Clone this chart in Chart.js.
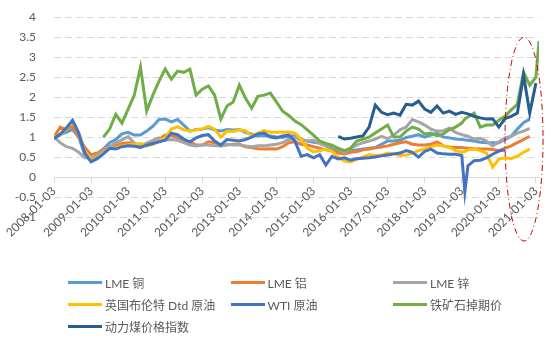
<!DOCTYPE html>
<html>
<head>
<meta charset="utf-8">
<script src="https://cdn.jsdelivr.net/npm/chart.js@4.4.1/dist/chart.umd.min.js"></script>
<style>
  body { margin: 0; background: #fff; }
  #wrap { position: relative; width: 554px; height: 344px; }
  #legend { position: absolute; left: 0; top: 0; width: 554px; height: 344px; pointer-events: none;
            font: 12px Lato, 'Noto Sans CJK SC', sans-serif; color: #595959; }
  .item { position: absolute; height: 16px; display: flex; align-items: center; white-space: nowrap; }
  .swatch { width: 34px; height: 3px; margin-right: 3px; }
</style>
</head>
<body>
<div id="wrap">
  <canvas id="chart" width="554" height="344"></canvas>
  <div id="legend"></div>
</div>
<script>
// x positions: months since 2008-01-03
const months = [
  0, 2, 4, 6, 8, 10, 12, 14, 16, 18, 20, 22, 24, 26, 28, 30, 32, 34,
  36, 38, 40, 42, 44, 46, 48, 50, 52, 54, 56, 58, 60, 62, 64, 66, 68, 70,
  72, 74, 76, 78, 80, 82, 84, 86, 88, 90, 92, 94, 96, 98, 100, 102, 104, 106,
  108, 110, 112, 114, 116, 118, 120, 122, 124, 126, 128, 130,
  132, 133, 134, 136, 138, 140, 142,
  144, 146, 148, 150, 152, 154, 156, 157
];

const yearLabels = ['2008-01-03', '2009-01-03', '2010-01-03', '2011-01-03', '2012-01-03', '2013-01-03',
  '2014-01-03', '2015-01-03', '2016-01-03', '2017-01-03', '2018-01-03', '2019-01-03',
  '2020-01-03', '2021-01-03'];

const seriesNames = ['LME 铜', 'LME 铝', 'LME 锌', '英国布伦特 Dtd 原油', 'WTI 原油', '铁矿石掉期价', '动力煤价格指数'];
const seriesColors = ['#5B9BD5', '#ED7D31', '#A5A5A5', '#FFC000', '#4472C4', '#70AD47', '#255E91'];

const lmeCopper = [
  1.0, 1.07, 1.12, 1.19, 1.0, 0.55,
  0.42, 0.55, 0.7, 0.86, 0.94, 1.08,
  1.12, 1.05, 1.05, 1.15, 1.27, 1.44,
  1.45, 1.38, 1.44, 1.3, 1.15, 1.19,
  1.2, 1.23, 1.18, 1.15, 1.19, 1.18,
  1.19, 1.12, 1.07, 1.03, 1.04, 1.03,
  1.0, 0.99, 1.02, 1.03, 0.95, 0.9,
  0.87, 0.85, 0.78, 0.72, 0.66, 0.64,
  0.66, 0.68, 0.7, 0.72, 0.74, 0.82,
  0.9, 0.9, 0.92, 0.99, 1.02, 1.06,
  1.0, 1.05, 1.1, 1.0, 0.98, 0.95,
  0.94, 0.93, 0.92, 0.9, 0.87, 0.86, 0.86,
  0.86, 0.94, 1.02, 1.2, 1.36, 1.45, null, null
];
const lmeAluminium = [
  1.0, 1.25, 1.18, 1.27, 1.0, 0.74,
  0.56, 0.6, 0.7, 0.75, 0.8, 0.84,
  0.86, 0.84, 0.78, 0.8, 0.86, 0.94,
  1.05, 1.04, 0.98, 0.92, 0.88, 0.8,
  0.8, 0.88, 0.86, 0.78, 0.8, 0.82,
  0.82, 0.76, 0.74, 0.71, 0.7, 0.71,
  0.7, 0.76, 0.86, 0.88, 0.82, 0.8,
  0.76, 0.72, 0.68, 0.65, 0.6, 0.58,
  0.62, 0.63, 0.68, 0.7, 0.73, 0.75,
  0.78, 0.82, 0.86, 0.88, 0.82, 0.8,
  0.8, 0.82, 0.88, 0.78, 0.75, 0.74,
  0.74, 0.73, 0.72, 0.71, 0.7, 0.7, 0.69,
  0.66, 0.72, 0.78, 0.86, 0.94, 1.02, null, null
];
const lmeZinc = [
  1.0, 0.86, 0.76, 0.72, 0.62, 0.48,
  0.47, 0.55, 0.66, 0.76, 0.86, 0.93,
  1.01, 0.85, 0.78, 0.85, 0.92, 0.98,
  0.92, 0.94, 0.92, 0.86, 0.8, 0.78,
  0.8, 0.8, 0.78, 0.78, 0.82, 0.8,
  0.8, 0.78, 0.76, 0.78, 0.78, 0.8,
  0.82, 0.86, 0.94, 1.0, 0.92, 0.9,
  0.92, 0.84, 0.8, 0.76, 0.7, 0.62,
  0.72, 0.8, 0.86, 0.9, 0.95, 1.02,
  0.96, 1.05, 1.18, 1.25, 1.44, 1.38,
  1.3, 1.2, 1.15, 1.16, 1.22, 1.12,
  1.06, 1.04, 1.02, 0.95, 0.97, 0.9, 0.78,
  0.88, 0.98, 1.02, 1.1, 1.15, 1.22, null, null
];
const brentDtd = [
  1.0, 1.05, 1.2, 1.4, 1.1, 0.65,
  0.42, 0.48, 0.6, 0.72, 0.72, 0.78,
  0.8, 0.82, 0.84, 0.78, 0.82, 0.9,
  0.98, 1.2, 1.26, 1.18, 1.15, 1.18,
  1.2, 1.27, 1.2, 1.0, 1.15, 1.14,
  1.18, 1.16, 1.03, 1.1, 1.16, 1.12,
  1.12, 1.12, 1.13, 1.1, 0.95, 0.72,
  0.63, 0.66, 0.7, 0.65, 0.5, 0.4,
  0.38, 0.44, 0.5, 0.56, 0.54, 0.55,
  0.6, 0.58, 0.54, 0.55, 0.6, 0.66,
  0.7, 0.76, 0.8, 0.78, 0.74, 0.66,
  0.62, 0.64, 0.68, 0.7, 0.66, 0.6, 0.25,
  0.45, 0.48, 0.46, 0.52, 0.62, 0.7, null, null
];
const wti = [
  0.96, 1.07, 1.23, 1.42, 1.1, 0.6,
  0.38, 0.46, 0.58, 0.72, 0.7, 0.76,
  0.78, 0.77, 0.74, 0.8, 0.84, 0.88,
  0.92, 1.1, 1.06, 0.95, 0.88, 0.98,
  1.04, 1.06, 0.9, 0.8, 0.94, 0.92,
  0.9, 0.94, 1.0, 1.08, 1.1, 1.0,
  0.98, 1.03, 1.05, 0.9, 0.52, 0.56,
  0.48, 0.56, 0.3, 0.52, 0.45, 0.48,
  0.42, 0.46, 0.47, 0.48, 0.5, 0.53,
  0.55, 0.58, 0.6, 0.66, 0.62, 0.5,
  0.64, 0.7, 0.6, 0.58, 0.57, 0.57,
  0.54, -0.37, 0.28, 0.41, 0.42, 0.48, 0.57,
  0.65, 0.68, null, null, null, null, null, null
];
const ironOreSwap = [
  null, null, null, null, null, null,
  null, null, 1.0, 1.2, 1.57, 1.35,
  1.7, 2.05, 2.75, 1.65, 2.05, 2.4,
  2.7, 2.45, 2.65, 2.62, 2.7, 2.05,
  2.2, 2.28, 2.05, 1.45, 1.78, 1.88,
  2.3, 1.97, 1.72, 2.02, 2.05, 2.1,
  1.88, 1.65, 1.54, 1.4, 1.31, 1.18,
  1.05, 0.9, 0.84, 0.8, 0.72, 0.66,
  0.72, 0.9, 0.95, 1.0, 1.1, 1.2,
  1.3, 1.0, 1.0, 1.15, 1.25, 1.2,
  1.08, 1.1, 1.03, 1.08, 1.19, 1.25,
  1.35, 1.45, 1.5, 1.6, 1.25, 1.3, 1.3,
  1.42, 1.52, 1.68, 1.82, 2.62, 2.3, 2.5, 3.4
];
const thermalCoal = [
  null, null, null, null, null, null,
  null, null, null, null, null, null,
  null, null, null, null, null, null,
  null, null, null, null, null, null,
  null, null, null, null, null, null,
  null, null, null, null, null, null,
  null, null, null, null, null, null,
  null, null, null, null, 1.02, 0.95,
  0.97, 1.0, 1.03, 1.25, 1.8, 1.62,
  1.56, 1.6, 1.55, 1.82, 1.8, 1.9,
  1.7, 1.62, 1.78, 1.6, 1.65, 1.57,
  1.62, 1.6, 1.58, 1.52, 1.48, 1.45, 1.46,
  1.25, 1.46, 1.52, 1.6, 2.55, 1.6, 2.35, null
];

const allSeries = [lmeCopper, lmeAluminium, lmeZinc, brentDtd, wti, ironOreSwap, thermalCoal];

// the red dash-dot ellipse marking the latest months, in data units
const highlight = { fromMonth: 146, toMonth: 158.3, low: -1.6, high: 3.5 };

// dashed horizontal gridlines (the zero line is the solid x axis)
const dashedGrid = {
  id: 'dashedGrid',
  beforeDraw(chart) {
    const { ctx, chartArea, scales: { y } } = chart;
    ctx.save();
    ctx.strokeStyle = '#d9d9d9';
    ctx.lineWidth = 1;
    ctx.setLineDash([7, 4]);
    y.ticks.forEach(t => {
      if (t.value === 0) return;
      const py = Math.round(y.getPixelForValue(t.value)) + 0.5;
      ctx.beginPath();
      ctx.moveTo(chartArea.left, py);
      ctx.lineTo(chartArea.right, py);
      ctx.stroke();
    });
    ctx.restore();
  }
};

const ellipsePlugin = {
  id: 'ellipse',
  afterDatasetsDraw(chart) {
    const { ctx, scales: { x, y } } = chart;
    const x1 = x.getPixelForValue(highlight.fromMonth), x2 = x.getPixelForValue(highlight.toMonth);
    const y1 = y.getPixelForValue(highlight.high), y2 = y.getPixelForValue(highlight.low);
    ctx.save();
    ctx.strokeStyle = '#C00000';
    ctx.lineWidth = 1;
    ctx.setLineDash([6, 3, 1, 3]);
    ctx.beginPath();
    ctx.ellipse((x1 + x2) / 2, (y1 + y2) / 2, (x2 - x1) / 2, (y2 - y1) / 2, 0, 0, Math.PI * 2);
    ctx.stroke();
    ctx.restore();
  }
};

const fontFamily = "Lato, 'Noto Sans CJK SC', sans-serif";

const datasets = allSeries.map((vals, i) => ({
  label: seriesNames[i],
  data: months.map((m, j) => ({ x: m, y: vals[j] })),
  borderColor: seriesColors[i],
  backgroundColor: seriesColors[i],
  borderWidth: 3,
  pointRadius: 0,
  tension: 0,
  spanGaps: false,
  order: allSeries.length - i
}));

const chart = new Chart(document.getElementById('chart'), {
  type: 'line',
  data: { datasets },
  plugins: [dashedGrid, ellipsePlugin],
  options: {
    responsive: false,
    animation: false,
    layout: { padding: { top: 14, right: 15, bottom: 127, left: 0 } },
    plugins: { legend: { display: false }, tooltip: { enabled: false } },
    scales: {
      x: {
        type: 'linear',
        position: { y: 0 },
        min: 0,
        max: 157,
        afterBuildTicks: s => { s.ticks = yearLabels.map((_, i) => ({ value: i * 12 })); },
        ticks: {
          autoSkip: false,
          minRotation: 45,
          maxRotation: 45,
          padding: 2,
          color: '#595959',
          font: { size: 12, family: fontFamily },
          callback: v => yearLabels[v / 12]
        },
        grid: { drawOnChartArea: false, drawTicks: true, tickLength: 5, color: '#d9d9d9' },
        border: { display: true, color: '#d9d9d9', width: 1 }
      },
      y: {
        min: -1,
        max: 4,
        afterFit: s => { s.width = 54; },
        ticks: {
          stepSize: 0.5,
          padding: 10,
          color: '#595959',
          font: { size: 12, family: fontFamily },
          callback: v => String(v)
        },
        grid: { display: false },
        border: { display: false }
      }
    }
  }
});

// legend in three columns, like the original
const legend = document.getElementById('legend');
datasets.forEach((ds, i) => {
  const col = i % 3, row = Math.floor(i / 3);
  const item = document.createElement('div');
  item.className = 'item';
  item.style.left = (68 + col * 162.5) + 'px';
  item.style.top = (274 + row * 22) + 'px';
  const sw = document.createElement('span');
  sw.className = 'swatch';
  sw.style.background = ds.borderColor;
  const txt = document.createElement('span');
  txt.textContent = ds.label;
  item.appendChild(sw);
  item.appendChild(txt);
  legend.appendChild(item);
});
</script>
</body>
</html>
